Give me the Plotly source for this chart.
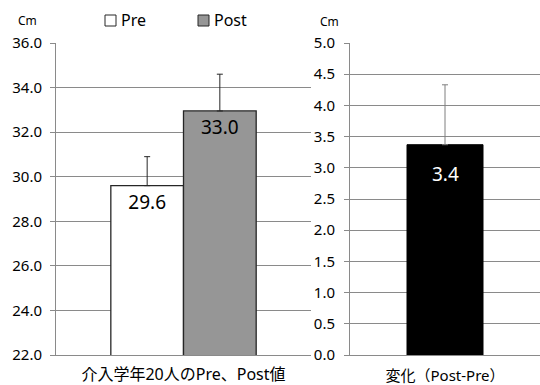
import plotly.graph_objects as go

# ---- data ----
group_label = ["介入学年20人のPre、Post値"]
pre_mean = [29.6]
pre_err = [1.3]
post_mean = [32.95]
post_err = [1.65]
change_label = ["変化（Post-Pre）"]
change_mean = [3.37]
change_err = [0.96]
left_ticks = [22.0, 24.0, 26.0, 28.0, 30.0, 32.0, 34.0, 36.0]
right_ticks = [0.0, 0.5, 1.0, 1.5, 2.0, 2.5, 3.0, 3.5, 4.0, 4.5, 5.0]
series_names = ["Pre", "Post"]
unit = "Cm"

W, H = 540, 385
FONT = "Noto Sans, Noto Sans CJK JP, sans-serif"
GRID = "#8a8a8a"
EDGE = "#262626"
PRE_COLOR = "white"
POST_COLOR = "#969696"

fig = go.Figure()

fig.add_trace(go.Bar(
    name=series_names[0], x=group_label, y=pre_mean,
    marker=dict(color=PRE_COLOR, line=dict(color=EDGE, width=1.3)),
    error_y=dict(type="data", array=pre_err, arrayminus=[0] * len(pre_err),
                 symmetric=False, color=EDGE, thickness=1, width=3),
    text=pre_mean, texttemplate="%{y:.1f}", textposition="inside",
    insidetextanchor="end", textfont=dict(size=19, color="black"),
    xaxis="x", yaxis="y",
))
fig.add_trace(go.Bar(
    name=series_names[1], x=group_label, y=post_mean,
    marker=dict(color=POST_COLOR, line=dict(color=EDGE, width=1.3)),
    error_y=dict(type="data", array=post_err, arrayminus=[0] * len(post_err),
                 symmetric=False, color=EDGE, thickness=1, width=3),
    text=post_mean, texttemplate="%{y:.1f}", textposition="inside",
    insidetextanchor="end", textfont=dict(size=19, color="black"),
    xaxis="x", yaxis="y",
))
fig.add_trace(go.Bar(
    name="change", x=change_label, y=change_mean,
    marker=dict(color="black", line=dict(color="black", width=1)),
    error_y=dict(type="data", array=change_err, arrayminus=[0] * len(change_err),
                 symmetric=False, color="#7f7f7f", thickness=1, width=3),
    xaxis="x2", yaxis="y2", width=0.4,
))

ydom = [(H - 355) / H, (H - 43) / H]
common_y = dict(showgrid=True, gridcolor=GRID, gridwidth=1, showline=True,
                linecolor=GRID, linewidth=1, ticks="outside", ticklen=5,
                tickcolor=GRID, tickfont=dict(size=15, color="black", family=FONT),
                zeroline=False, domain=ydom, tickmode="array", automargin=False)
common_x = dict(showline=True, linecolor=GRID, linewidth=1,
                showticklabels=False, ticks="", automargin=False)


def px(x):
    return x / W


def py(y):
    return (H - y) / H


# legend keys drawn as boxes + labels
shapes = [
    dict(type="rect", xref="paper", yref="paper",
         x0=px(105), x1=px(116), y0=py(26), y1=py(15),
         fillcolor=PRE_COLOR, line=dict(color=EDGE, width=1)),
    dict(type="rect", xref="paper", yref="paper",
         x0=px(198), x1=px(209), y0=py(26), y1=py(15),
         fillcolor=POST_COLOR, line=dict(color=EDGE, width=1)),
]

annotations = [
    dict(text=series_names[0], x=px(119), y=py(20), xref="paper", yref="paper",
         showarrow=False, font=dict(size=16, color="black"),
         xanchor="left", yanchor="middle"),
    dict(text=series_names[1], x=px(212), y=py(20), xref="paper", yref="paper",
         showarrow=False, font=dict(size=16, color="black"),
         xanchor="left", yanchor="middle"),
    dict(text=unit, x=px(27), y=py(20), xref="paper", yref="paper",
         showarrow=False, font=dict(size=12, color="black"),
         xanchor="center", yanchor="middle"),
    dict(text=unit, x=px(329), y=py(21), xref="paper", yref="paper",
         showarrow=False, font=dict(size=12, color="black"),
         xanchor="center", yanchor="middle"),
]
# value label of the change bar (placed from the data value)
for cat, val in zip(change_label, change_mean):
    annotations.append(dict(
        text=f"{val:.1f}", x=cat, y=val, xref="x2", yref="y2",
        showarrow=False, yshift=-29, yanchor="middle",
        font=dict(size=19, color="white"),
    ))

fig.update_layout(
    width=W, height=H,
    margin=dict(l=0, r=0, t=0, b=0, autoexpand=False),
    paper_bgcolor="white", plot_bgcolor="white",
    font=dict(family=FONT, color="black"),
    barmode="group", bargap=0.43, bargroupgap=0,
    showlegend=False,
    xaxis=dict(domain=[56 / W, 311 / W], anchor="y",
               title=dict(text=group_label[0], font=dict(size=16, color="black"),
                          standoff=15), **common_x),
    yaxis=dict(range=[22, 36], tickvals=left_ticks,
               ticktext=[f"{v:.1f}" for v in left_ticks], anchor="x",
               ticklabelstandoff=5, **common_y),
    xaxis2=dict(domain=[350 / W, 1.0], anchor="y2",
                title=dict(text=change_label[0], font=dict(size=15, color="black"),
                           standoff=15), **common_x),
    yaxis2=dict(range=[0, 5], tickvals=right_ticks,
                ticktext=[f"{v:.1f}" for v in right_ticks], anchor="x2",
                ticklabelstandoff=6, **common_y),
    shapes=shapes,
    annotations=annotations,
)

fig.write_html(
    "out.html",
    config={"displayModeBar": False},
    post_script="document.body.style.margin='0';document.body.style.overflow='hidden';",
)
